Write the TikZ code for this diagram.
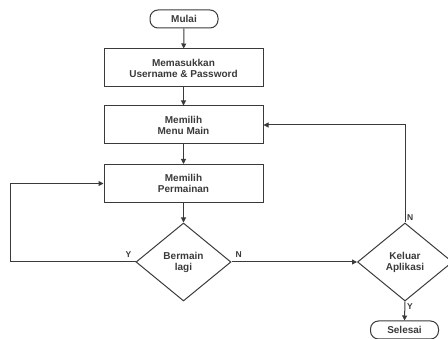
\documentclass[tikz,border=0pt]{standalone}
\usepackage{fontspec}
\setmainfont{Liberation Sans}
\usetikzlibrary{shapes.geometric,arrows.meta}
\definecolor{linegray}{HTML}{3A3A3A}
\tikzset{
  terminal/.style={draw=linegray,line width=1pt,rounded corners=8pt,minimum width=68pt,minimum height=18pt,inner sep=0pt},
  process/.style={draw=linegray,line width=1pt,minimum width=159pt,minimum height=38pt,inner sep=0pt,align=center},
  decision/.style={draw=linegray,line width=1pt,diamond,minimum width=95pt,minimum height=78pt,inner sep=0pt,align=center},
  flow/.style={draw=linegray,line width=1pt,-{Triangle[length=5pt,width=5pt]}},
  tag/.style={font=\fontsize{8.5}{9}\selectfont\bfseries,text=linegray}
}
\begin{document}
\begin{tikzpicture}[x=1pt,y=-1pt,font=\fontsize{10}{11}\selectfont\bfseries,text=linegray]
\useasboundingbox (0,0) rectangle (448,339);
\node[terminal] (mulai) at (184,19) {Mulai};
\node[process] (login) at (183.5,68) {Memasukkan\\Username \& Password};
\node[process] (menu) at (183.5,125) {Memilih\\Menu Main};
\node[process] (game) at (183.5,183.5) {Memilih\\Permainan};
\node[decision] (lagi) at (183.5,262) {Bermain\\lagi};
\node[decision] (keluar) at (405,262) {Keluar\\Aplikasi};
\node[terminal] (selesai) at (404.5,330) {Selesai};
\coordinate (kiri) at (10,0);
% alur utama
\draw[flow] (mulai) -- (login);
\draw[flow] (login) -- (menu);
\draw[flow] (menu) -- (game);
\draw[flow] (game) -- (lagi);
\draw[flow] (lagi.west) -- (kiri |- lagi.west) -- (kiri |- game.west) -- (game.west);
\draw[flow] (lagi.east) -- (keluar.west);
\draw[flow] (keluar.north) -- (keluar.north |- menu.east) -- (menu.east);
\draw[flow] (keluar.south) -- (selesai.north);
% label
\node[tag,above left,inner sep=4pt] at (lagi.west) {Y};
\node[tag,above right,inner sep=4pt] at (lagi.east) {N};
\node[tag,above right,inner sep=2pt] at (keluar.north) {N};
\node[tag,below right,inner sep=2pt] at (keluar.south) {Y};
\end{tikzpicture}
\end{document}
